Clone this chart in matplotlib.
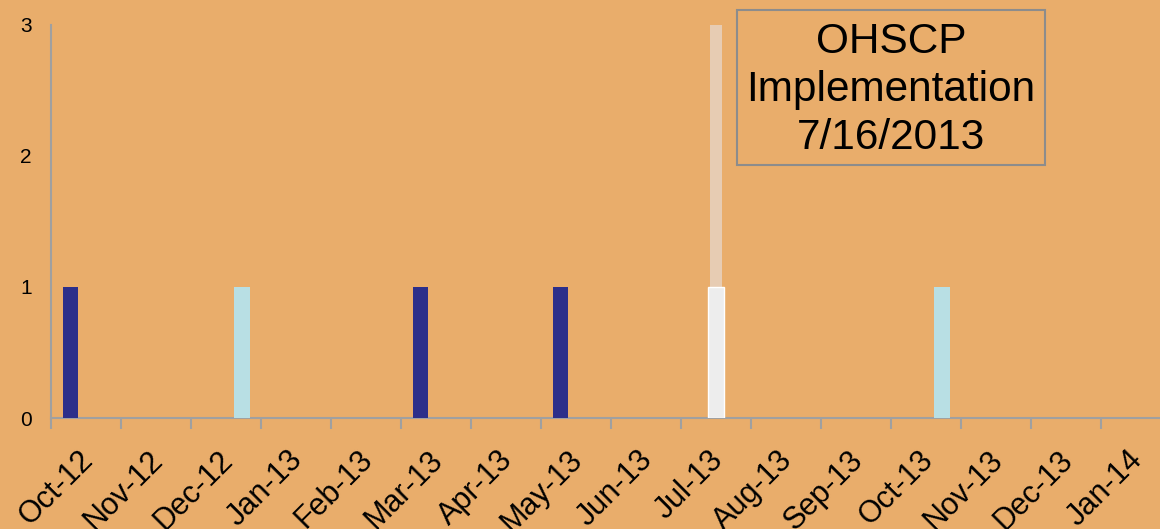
import numpy as np
import matplotlib.pyplot as plt
from matplotlib.patches import Rectangle

# months on the category axis
months = ['Oct-12', 'Nov-12', 'Dec-12', 'Jan-13', 'Feb-13', 'Mar-13', 'Apr-13',
          'May-13', 'Jun-13', 'Jul-13', 'Aug-13', 'Sep-13', 'Oct-13', 'Nov-13',
          'Dec-13', 'Jan-14']

# three clustered series + the implementation marker
dark_vals = [1, 0, 0, 0, 0, 1, 0, 1, 0, 0, 0, 0, 0, 0, 0, 0]
white_vals = [0, 0, 0, 0, 0, 0, 0, 0, 0, 1, 0, 0, 0, 0, 0, 0]
light_vals = [0, 0, 1, 0, 0, 0, 0, 0, 0, 0, 0, 0, 1, 0, 0, 0]
marker_vals = [0, 0, 0, 0, 0, 0, 0, 0, 0, 3, 0, 0, 0, 0, 0, 0]

bg = '#E9AD6B'
axis_col = '#A0A0A0'
fam = ['Liberation Sans', 'DejaVu Sans']

fig = plt.figure(figsize=(11.6, 5.29), dpi=100, facecolor=bg)
ax = fig.add_axes([0.044, 0.2098, 0.956, 0.7435], facecolor=bg)

x = np.arange(len(months)) + 0.5
w = 0.22
off = 0.225


def draw(pos, vals, **kw):
    vals = np.array(vals)
    keep = vals > 0
    ax.bar(pos[keep], vals[keep], **kw)


draw(x, marker_vals, width=0.17, color='#E7CCB3', zorder=2)
draw(x - off, dark_vals, width=w, color='#2C2F8A', zorder=3)
draw(x, white_vals, width=w, color='#EDEDED', edgecolor='white', linewidth=1, zorder=3)
draw(x + off, light_vals, width=w, color='#B8DFE4', zorder=3)

ax.set_xlim(0, 15.84)
ax.set_ylim(0, 3)

for s in ['top', 'right']:
    ax.spines[s].set_visible(False)
for s in ['left', 'bottom']:
    ax.spines[s].set_color(axis_col)
    ax.spines[s].set_linewidth(1.5)

ax.set_yticks([0, 1, 2, 3])
ax.tick_params(axis='y', length=0, pad=14)

# major ticks at month boundaries, labels centred in each month
ax.set_xticks(np.arange(len(months)))
ax.set_xticklabels([])
ax.tick_params(axis='x', which='major', length=8, width=1.5, color=axis_col, direction='out')
ax.set_xticks(x + 0.03, minor=True)
ax.set_xticklabels(months, minor=True, rotation=45, ha='right', va='center',
                   rotation_mode='anchor')
ax.tick_params(axis='x', which='minor', length=0, pad=27)

for lab in ax.get_xticklabels(minor=True):
    lab.set_family(fam)
    lab.set_fontsize(22)
for lab in ax.get_yticklabels():
    lab.set_family(fam)
    lab.set_fontsize(15)

# implementation callout
fig.add_artist(Rectangle((0.6353, 0.688), 0.2655, 0.293, transform=fig.transFigure,
                         facecolor=bg, edgecolor='#8C8C8C', linewidth=1.5, zorder=5))
fig.text(0.768, 0.830, 'OHSCP\nImplementation\n7/16/2013', ha='center', va='center',
         fontsize=30.5, family=fam, linespacing=1.25, zorder=6)

fig.savefig('out.png', dpi=100, facecolor=bg)
